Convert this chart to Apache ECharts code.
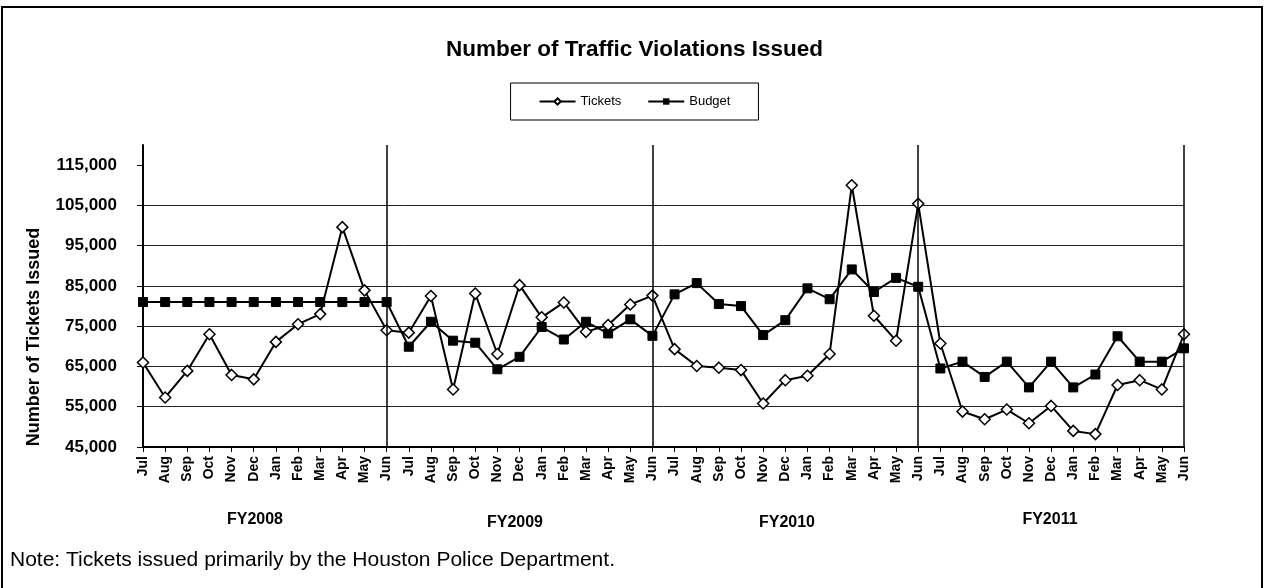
<!DOCTYPE html>
<html>
<head>
<meta charset="utf-8">
<title>Number of Traffic Violations Issued</title>
<script src="https://cdn.jsdelivr.net/npm/echarts@6/dist/echarts.min.js"></script>
<style>
  html, body { margin: 0; padding: 0; background: #fff; }
  #chart { width: 1269px; height: 588px; }
</style>
</head>
<body>
<div id="chart"></div>
<script>
// months of each fiscal year, Jul..Jun
const months = ['Jul', 'Aug', 'Sep', 'Oct', 'Nov', 'Dec', 'Jan', 'Feb', 'Mar', 'Apr', 'May', 'Jun'];
const fiscalYears = ['FY2008', 'FY2009', 'FY2010', 'FY2011'];
const categories = fiscalYears.flatMap(() => months);

const tickets = [
  66000, 57300, 63900, 73000, 62900, 61800, 71100, 75500, 78000, 99600, 83900, 74000,
  73400, 82500, 59300, 83100, 68100, 85200, 77200, 80900, 73600, 75300, 80400, 82600,
  69300, 65100, 64700, 64100, 55800, 61600, 62700, 68100, 110000, 77600, 71400, 105400,
  70700, 53800, 51900, 54300, 50900, 55200, 49000, 48200, 60400, 61600, 59300, 73000
];
const budget = [
  81000, 81000, 81000, 81000, 81000, 81000, 81000, 81000, 81000, 81000, 81000, 81000,
  69900, 76100, 71400, 70900, 64300, 67400, 74800, 71700, 76100, 73200, 76700, 72600,
  82900, 85700, 80500, 80000, 72800, 76500, 84400, 81700, 89100, 83500, 87000, 84800,
  64500, 66200, 62400, 66200, 59800, 66200, 59800, 63000, 72500, 66200, 66200, 69500
];
const yTicks = [45000, 55000, 65000, 75000, 85000, 95000, 105000, 115000];
// year separators sit on each June
const separators = [11, 23, 35, 47];

const font = 'Liberation Sans, Arial, sans-serif';
const chart = echarts.init(document.getElementById('chart'));

const option = {
  animation: false,
  backgroundColor: '#fff',
  title: {
    text: 'Number of Traffic Violations Issued',
    left: 'center',
    top: 33,
    textStyle: { fontFamily: font, fontSize: 22.5, fontWeight: 'bold', color: '#000' }
  },
  legend: {
    top: 83,
    left: 'center',
    data: ['Tickets', 'Budget'],
    borderColor: '#000',
    borderWidth: 1,
    padding: [12, 28],
    itemGap: 26,
    itemWidth: 36,
    itemHeight: 8,
    textStyle: { fontFamily: font, fontSize: 13, color: '#000' }
  },
  grid: { left: 143, right: 85, top: 145, bottom: 141 },
  xAxis: {
    type: 'category',
    data: categories,
    boundaryGap: false,
    axisLine: { lineStyle: { color: '#000', width: 2 } },
    axisTick: { show: true, length: 5, interval: 0, lineStyle: { color: '#000' } },
    axisLabel: {
      interval: 0,
      rotate: 90,
      margin: 9,
      fontFamily: font,
      fontSize: 14,
      fontWeight: 'bold',
      color: '#000'
    },
    splitLine: { show: false }
  },
  yAxis: {
    type: 'value',
    min: 45000,
    max: 120000,
    interval: 10000,
    axisLine: { show: true, lineStyle: { color: '#000', width: 2 } },
    axisTick: { show: true, length: 6, customValues: yTicks, lineStyle: { color: '#000' } },
    axisLabel: {
      showMaxLabel: false,
      margin: 26,
      fontFamily: font,
      fontSize: 17,
      fontWeight: 'bold',
      color: '#000',
      formatter: v => (v > 115000 ? '' : v.toLocaleString('en-US'))
    },
    splitLine: { show: true, showMaxLine: false, lineStyle: { color: '#222', width: 1 } }
  },
  series: [
    {
      name: 'Tickets',
      type: 'line',
      data: tickets,
      symbol: 'diamond',
      symbolSize: 11,
      lineStyle: { color: '#000', width: 2 },
      itemStyle: { color: '#fff', borderColor: '#000', borderWidth: 1.5 },
      z: 3,
      markLine: {
        silent: true,
        symbol: 'none',
        label: { show: false },
        lineStyle: { color: '#000', width: 1.5, type: 'solid' },
        data: separators.map(i => ({ xAxis: i }))
      }
    },
    {
      name: 'Budget',
      type: 'line',
      data: budget,
      symbol: 'rect',
      symbolSize: 9,
      lineStyle: { color: '#000', width: 2 },
      itemStyle: { color: '#000', borderColor: '#000' },
      z: 2
    }
  ],
  graphic: [
    {
      type: 'rect',
      shape: { x: 2, y: 7, width: 1260, height: 600 },
      style: { fill: 'none', stroke: '#000', lineWidth: 2 },
      silent: true
    },
    {
      type: 'text',
      x: 34,
      y: 337,
      rotation: Math.PI / 2,
      style: {
        text: 'Number of Tickets Issued',
        fontFamily: font,
        fontSize: 18,
        fontWeight: 'bold',
        fill: '#000',
        align: 'center',
        verticalAlign: 'middle'
      }
    },
    ...fiscalYears.map((fy, i) => ({
      type: 'text',
      x: [255, 515, 787, 1050][i],
      y: [520, 523, 523, 520][i],
      style: {
        text: fy,
        fontFamily: font,
        fontSize: 16,
        fontWeight: 'bold',
        fill: '#000',
        align: 'center',
        verticalAlign: 'middle'
      }
    })),
    {
      type: 'text',
      x: 10,
      y: 560,
      style: {
        text: 'Note: Tickets issued primarily by the Houston Police Department.',
        fontFamily: font,
        fontSize: 21,
        fill: '#000',
        align: 'left',
        verticalAlign: 'middle'
      }
    }
  ]
};

chart.setOption(option);
</script>
</body>
</html>
